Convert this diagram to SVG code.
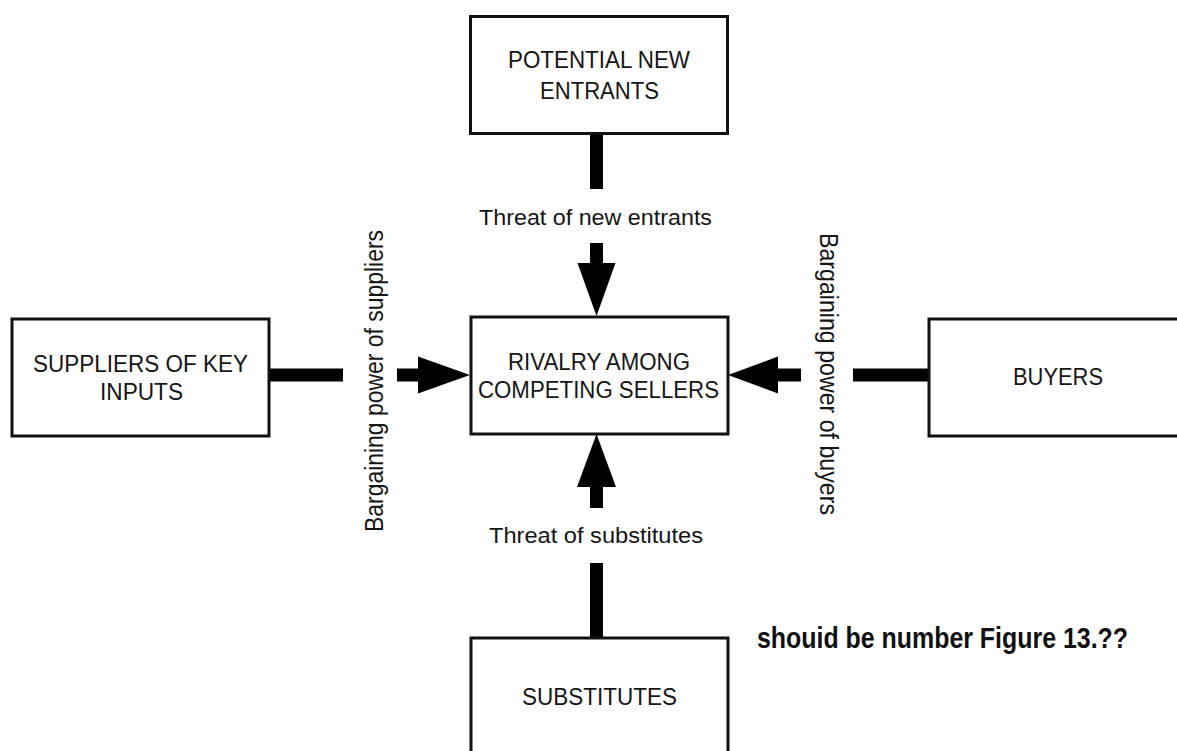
<svg xmlns="http://www.w3.org/2000/svg" width="1177" height="751" viewBox="0 0 1177 751">
  <style>
    .box { fill: #ffffff; stroke: #111111; stroke-width: 3; }
    .lbl { font-family: "Liberation Sans", Arial, sans-serif; font-size: 23.5px; fill: #151515; text-anchor: middle; }
    .clbl { font-family: "Liberation Sans", Arial, sans-serif; font-size: 22px; fill: #151515; text-anchor: middle; }
    .vlbl { font-family: "Liberation Sans", Arial, sans-serif; font-size: 25px; fill: #151515; text-anchor: middle; }
    .note { font-family: "Liberation Sans Narrow", "Liberation Sans", Arial, sans-serif; font-size: 29px; font-weight: bold; fill: #111111; }
    .bar { fill: #000000; }
  </style>
  <rect width="1177" height="751" fill="#ffffff"/>

  <g id="connectors">
    <!-- top: potential new entrants -> rivalry -->
    <rect class="bar" x="590" y="133" width="13" height="56"/>
    <text class="clbl" x="595.5" y="225" textLength="233" lengthAdjust="spacingAndGlyphs">Threat of new entrants</text>
    <rect class="bar" x="590" y="243" width="13" height="21"/>
    <polygon class="bar" points="577.5,263 615.5,263 596.5,316"/>

    <!-- bottom: substitutes -> rivalry -->
    <rect class="bar" x="590" y="563" width="13" height="75"/>
    <text class="clbl" x="596" y="543" textLength="214" lengthAdjust="spacingAndGlyphs">Threat of substitutes</text>
    <rect class="bar" x="590" y="486" width="13" height="22"/>
    <polygon class="bar" points="577,487 616,487 596.5,434"/>

    <!-- left: suppliers -> rivalry -->
    <rect class="bar" x="269" y="368.5" width="74" height="13"/>
    <text class="vlbl" transform="translate(383,381) rotate(-90)" x="0" y="0" textLength="302" lengthAdjust="spacingAndGlyphs">Bargaining power of suppliers</text>
    <rect class="bar" x="397" y="368.5" width="22" height="13"/>
    <polygon class="bar" points="418,356.5 418,393.5 470,375"/>

    <!-- right: buyers -> rivalry -->
    <rect class="bar" x="853" y="368.5" width="76" height="13"/>
    <text class="vlbl" transform="translate(820,374) rotate(90)" x="0" y="0" textLength="282" lengthAdjust="spacingAndGlyphs">Bargaining power of buyers</text>
    <rect class="bar" x="777" y="368.5" width="24" height="13"/>
    <polygon class="bar" points="778,356.5 778,393.5 728,375"/>
  </g>

  <g id="node-potential-new-entrants">
    <rect class="box" x="470.5" y="16.5" width="257" height="117"/>
    <text class="lbl" x="599" y="68" textLength="182" lengthAdjust="spacingAndGlyphs">POTENTIAL NEW</text>
    <text class="lbl" x="599.5" y="99" textLength="119" lengthAdjust="spacingAndGlyphs">ENTRANTS</text>
  </g>

  <g id="node-rivalry">
    <rect class="box" x="471" y="317" width="257" height="117"/>
    <text class="lbl" x="599" y="370" textLength="182" lengthAdjust="spacingAndGlyphs">RIVALRY AMONG</text>
    <text class="lbl" x="598.5" y="398" textLength="241" lengthAdjust="spacingAndGlyphs">COMPETING SELLERS</text>
  </g>

  <g id="node-suppliers">
    <rect class="box" x="12" y="319" width="257" height="117"/>
    <text class="lbl" x="140.5" y="372" textLength="215" lengthAdjust="spacingAndGlyphs">SUPPLIERS OF KEY</text>
    <text class="lbl" x="141.5" y="400" textLength="83" lengthAdjust="spacingAndGlyphs">INPUTS</text>
  </g>

  <g id="node-buyers">
    <rect class="box" x="929" y="319" width="260" height="117"/>
    <text class="lbl" x="1058" y="385" textLength="90" lengthAdjust="spacingAndGlyphs">BUYERS</text>
  </g>

  <g id="node-substitutes">
    <rect class="box" x="471" y="638" width="257" height="130"/>
    <text class="lbl" x="599.5" y="705" textLength="155" lengthAdjust="spacingAndGlyphs">SUBSTITUTES</text>
  </g>

  <g id="note">
    <text class="note" x="757" y="648" textLength="371" lengthAdjust="spacingAndGlyphs">shouid be number Figure 13.??</text>
  </g>
</svg>
